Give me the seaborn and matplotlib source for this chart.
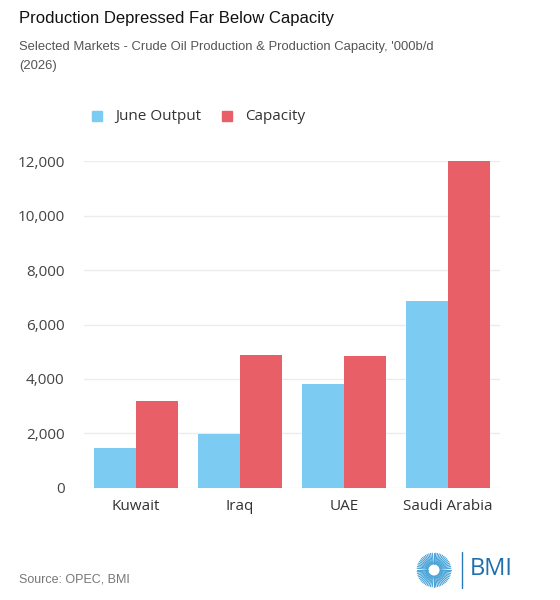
import pandas as pd
import numpy as np
import seaborn as sns
import matplotlib.pyplot as plt

# data
markets = ['Kuwait', 'Iraq', 'UAE', 'Saudi Arabia']
june_output = [1450, 1980, 3800, 6850]
capacity = [3200, 4900, 4850, 12000]
series_names = ['June Output', 'Capacity']
y_ticks = [0, 2000, 4000, 6000, 8000, 10000, 12000]

df = pd.DataFrame({
    'market': markets * 2,
    'series': [series_names[0]] * len(markets) + [series_names[1]] * len(markets),
    'value': june_output + capacity,
})

sns.set_theme(style='white')
plt.rcParams['font.family'] = ['Open Sans', 'DejaVu Sans']

palette = {'June Output': '#7ccbf3', 'Capacity': '#e85f68'}

fig = plt.figure(figsize=(5.6, 6), dpi=100)
ax = fig.add_axes([0.15, 0.187, 0.743, 0.544])

sns.barplot(data=df, x='market', y='value', hue='series', palette=palette,
            width=0.8, saturation=1, ax=ax, legend=False, zorder=3,
            linewidth=0, edgecolor='none')

ax.set_ylim(0, 12000)
ax.set_xlim(-0.5, 3.5)
ax.set_yticks(y_ticks)
ax.set_yticklabels([f'{v:,}' for v in y_ticks], fontsize=11, color='#444444')
ax.tick_params(axis='x', labelsize=11, labelcolor='#333333', length=0, pad=8)
ax.tick_params(axis='y', length=0, pad=14)
ax.grid(axis='y', color='#ececec', linewidth=1, zorder=0)
ax.set_xlabel('')
ax.set_ylabel('')
for s in ax.spines.values():
    s.set_visible(False)

# legend
for i, name in enumerate(series_names):
    x0 = [92, 222][i] / 560
    fig.patches.append(plt.Rectangle((x0, 1 - 121 / 600), 10 / 560, 10 / 600,
                                     transform=fig.transFigure, color=palette[name]))
    fig.text(x0 + 23 / 560, 1 - 116 / 600, name, fontsize=11, color='#333333',
             va='center', ha='left')

# titles
fig.text(19 / 560, 1 - 19 / 600, 'Production Depressed Far Below Capacity',
         fontsize=12, color='#111111', family='Liberation Sans', va='center')
fig.text(19 / 560, 1 - 47 / 600,
         "Selected Markets - Crude Oil Production & Production Capacity, '000b/d",
         fontsize=9.4, color='#555555', family='Liberation Sans', va='center')
fig.text(19 / 560, 1 - 66 / 600, '(2026)', fontsize=9.4, color='#555555',
         family='Liberation Sans', va='center')
fig.text(19 / 560, 1 - 579 / 600, 'Source: OPEC, BMI', fontsize=9, color='#777777',
         family='Liberation Sans', va='center')

# logo
cx, cy = 434, 570
angles = np.linspace(0, 2 * np.pi, 60, endpoint=False)
for a in angles:
    r0, r1 = 6, 17
    fig.add_artist(plt.Line2D([(cx + r0 * np.cos(a)) / 560, (cx + r1 * np.cos(a)) / 560],
                              [1 - (cy + r0 * np.sin(a)) / 600, 1 - (cy + r1 * np.sin(a)) / 600],
                              transform=fig.transFigure, color='#4aa3d6', linewidth=0.8))
fig.add_artist(plt.Line2D([462 / 560, 462 / 560], [1 - 552 / 600, 1 - 588 / 600],
                          transform=fig.transFigure, color='#2b7bb9', linewidth=1))
fig.text(470 / 560, 1 - 569 / 600, 'BMI', fontsize=17, color='#1f6fae', va='center',
         family='Open Sans')

fig.savefig('out.png', dpi=100, facecolor='white')
